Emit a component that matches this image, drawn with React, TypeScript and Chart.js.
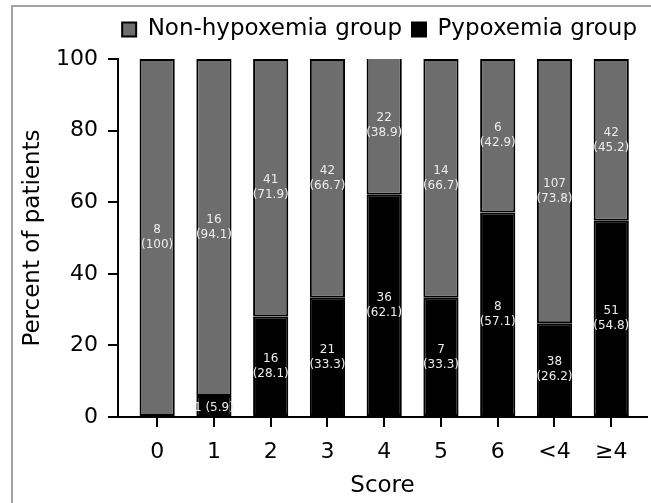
import React, { useEffect, useRef } from "react";
import { Chart, registerables } from "chart.js";

Chart.register(...registerables);

const categories = ["0", "1", "2", "3", "4", "5", "6", "<4", "≥4"];
const nonHypoxemiaCount = [8, 16, 41, 42, 22, 14, 6, 107, 42];
const nonHypoxemiaPct = [100, 94.1, 71.9, 66.7, 38.9, 66.7, 42.9, 73.8, 45.2];
const hypoxemiaCount = [0, 1, 16, 21, 36, 7, 8, 38, 51];
const hypoxemiaPct = [0, 5.9, 28.1, 33.3, 62.1, 33.3, 57.1, 26.2, 54.8];
const yTicks = [0, 20, 40, 60, 80, 100];

const FONT = "'DejaVu Sans', 'Liberation Sans', Arial, sans-serif";

const fmtPct = (v: number) => (Number.isInteger(v) ? String(v) : v.toFixed(1));

const barLabels = {
  id: "barLabels",
  afterDatasetsDraw(chart: any) {
    const ctx = chart.ctx;
    const counts = [hypoxemiaCount, nonHypoxemiaCount];
    const pcts = [hypoxemiaPct, nonHypoxemiaPct];
    ctx.save();
    ctx.font = `12px ${FONT}`;
    ctx.fillStyle = "#ececec";
    ctx.textAlign = "center";
    ctx.textBaseline = "middle";
    chart.data.datasets.forEach((_: any, di: number) => {
      const meta = chart.getDatasetMeta(di);
      meta.data.forEach((el: any, i: number) => {
        const n = counts[di][i];
        if (!n) return;
        const p = fmtPct(pcts[di][i]);
        const cy = (el.y + el.base) / 2;
        const h = Math.abs(el.base - el.y);
        if (h > 34) {
          ctx.fillText(String(n), el.x, cy - 7.5);
          ctx.fillText(`(${p})`, el.x, cy + 7.5);
        } else {
          ctx.fillText(`${n} (${p})`, el.x, cy + 2);
        }
      });
    });
    ctx.restore();
  },
};

export default function App() {
  const ref = useRef<HTMLCanvasElement | null>(null);

  useEffect(() => {
    if (!ref.current) return;
    const chart = new Chart(ref.current, {
      type: "bar",
      data: {
        datasets: [
          {
            label: "Pypoxemia group",
            data: hypoxemiaPct.map((v, i) => ({ x: i, y: v })),
            backgroundColor: "#000000",
            borderColor: "#000000",
            borderWidth: 2,
            borderSkipped: false,
          },
          {
            label: "Non-hypoxemia group",
            data: nonHypoxemiaPct.map((v, i) => ({ x: i, y: v })),
            backgroundColor: "#6d6d6d",
            borderColor: "#000000",
            borderWidth: 2,
            borderSkipped: false,
          },
        ],
      },
      options: {
        animation: false,
        responsive: false,
        maintainAspectRatio: false,
        layout: { padding: { left: 0, right: 4, top: 8, bottom: 0 } },
        datasets: { bar: { categoryPercentage: 0.62, barPercentage: 1 } },
        plugins: {
          tooltip: { enabled: false },
          title: {
            display: true,
            text: "",
            weight: 500,
            padding: 0,
            font: { size: 8, lineHeight: 1 },
          },
          legend: {
            display: true,
            position: "top",
            align: "end",
            reverse: true,
            labels: {
              color: "#000",
              font: { family: FONT, size: 23 },
              boxWidth: 14,
              boxHeight: 14,
              padding: 10,
            },
          },
        },
        scales: {
          x: {
            type: "linear",
            stacked: true,
            offset: false,
            min: -0.69,
            max: 8.63,
            afterFit: (s: any) => {
              s.height = 86;
            },
            afterBuildTicks: (s: any) => {
              s.ticks = categories.map((_, i) => ({ value: i }));
            },
            ticks: {
              stepSize: 1,
              includeBounds: false,
              autoSkip: false,
              maxRotation: 0,
              padding: 12,
              color: "#000",
              font: { family: FONT, size: 22 },
              callback: (v: any) => categories[v] ?? "",
            },
            grid: {
              offset: false,
              drawOnChartArea: false,
              drawTicks: true,
              tickLength: 10,
              color: "#000",
              lineWidth: 2,
            },
            border: { display: true, color: "#000", width: 2 },
            title: {
              display: true,
              text: "Score",
              color: "#000",
              font: { family: FONT, size: 23 },
              padding: { top: 0, bottom: 3 },
            },
          },
          y: {
            stacked: true,
            min: 0,
            max: 100,
            afterFit: (s: any) => {
              s.width = 118;
            },
            afterBuildTicks: (s: any) => {
              s.ticks = yTicks.map((v) => ({ value: v }));
            },
            ticks: {
              padding: 10,
              color: "#000",
              font: { family: FONT, size: 22 },
            },
            grid: {
              drawOnChartArea: false,
              drawTicks: true,
              tickLength: 10,
              color: "#000",
              lineWidth: 2,
            },
            border: { display: true, color: "#000", width: 2 },
            title: {
              display: true,
              text: "Percent of patients",
              color: "#000",
              font: { family: FONT, size: 23 },
              padding: { top: 19, bottom: 0 },
            },
          },
        },
      },
      plugins: [barLabels],
    });
    return () => chart.destroy();
  }, []);

  return (
    <div
      style={{
        position: "fixed",
        left: 0,
        top: 0,
        width: 651,
        height: 503,
        overflow: "hidden",
        background: "#fff",
      }}
    >
      <div
        style={{
          position: "absolute",
          left: 11,
          top: 5,
          width: 660,
          height: 520,
          border: "2px solid #a3a3a3",
          boxSizing: "border-box",
        }}
      />
      <canvas
        ref={ref}
        width={651}
        height={503}
        style={{ position: "absolute", left: 0, top: 0, display: "block" }}
      />
    </div>
  );
}
